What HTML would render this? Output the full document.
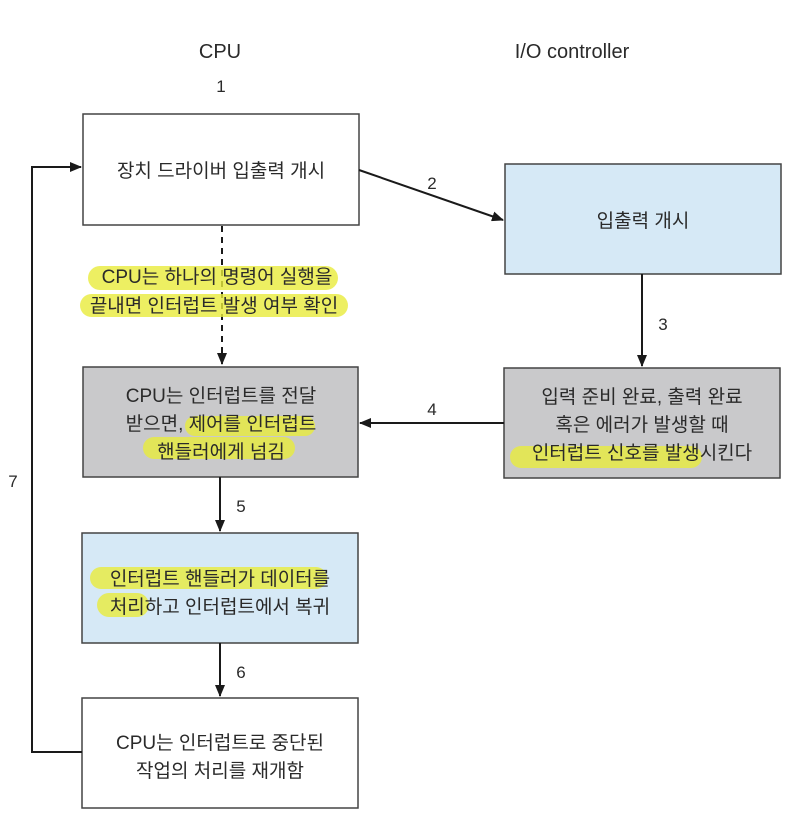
<!DOCTYPE html>
<html><head><meta charset="utf-8">
<style>
html,body{margin:0;padding:0;background:#fff;}
svg{display:block;}
text{font-family:"Liberation Sans","Noto Sans CJK KR",sans-serif;fill:#2a2a2a;}
</style></head>
<body>
<svg width="803" height="821" viewBox="0 0 803 821" xmlns="http://www.w3.org/2000/svg">
<defs>
<marker id="a" markerWidth="12" markerHeight="10" refX="11" refY="5" orient="auto" markerUnits="userSpaceOnUse">
<path d="M0,0 L12,5 L0,10 Z" fill="#1a1a1a"/></marker>
</defs>

<text x="220" y="58" font-size="20" text-anchor="middle">CPU</text>
<text x="572" y="58" font-size="20" text-anchor="middle">I/O controller</text>
<text x="221" y="92" font-size="17" text-anchor="middle">1</text>

<!-- boxes -->
<rect x="83" y="114" width="276" height="111" fill="#fff" stroke="#444" stroke-width="1.5"/>
<rect x="505" y="164" width="276" height="110" fill="#d6e9f6" stroke="#444" stroke-width="1.5"/>
<rect x="83" y="367" width="275" height="110" fill="#c9c9cb" stroke="#444" stroke-width="1.5"/>
<rect x="504" y="368" width="276" height="110" fill="#c9c9cb" stroke="#444" stroke-width="1.5"/>
<rect x="82" y="533" width="276" height="110" fill="#d6e9f6" stroke="#444" stroke-width="1.5"/>
<rect x="82" y="698" width="276" height="110" fill="#fff" stroke="#444" stroke-width="1.5"/>

<line x1="222" y1="226" x2="222" y2="364" stroke="#1a1a1a" stroke-width="2" stroke-dasharray="6,5" marker-end="url(#a)"/>

<!-- highlights -->
<g fill="#e9ec3c" opacity="0.8">
<rect x="88" y="266" width="250" height="24" rx="12"/>
<rect x="80" y="294" width="268" height="23" rx="11.5"/>
<rect x="185" y="416" width="130" height="20" rx="10"/>
<rect x="143" y="437" width="152" height="22" rx="11"/>
<rect x="510" y="446" width="192" height="22" rx="11"/>
<rect x="90" y="567" width="237" height="22" rx="11"/>
<rect x="97" y="593" width="52" height="24" rx="12"/>
</g>

<!-- connectors -->
<line x1="359" y1="170" x2="503" y2="220" stroke="#1a1a1a" stroke-width="2" marker-end="url(#a)"/>
<line x1="642" y1="274" x2="642" y2="366" stroke="#1a1a1a" stroke-width="2" marker-end="url(#a)"/>
<line x1="504" y1="423" x2="360" y2="423" stroke="#1a1a1a" stroke-width="2" marker-end="url(#a)"/>
<line x1="220" y1="477" x2="220" y2="531" stroke="#1a1a1a" stroke-width="2" marker-end="url(#a)"/>
<line x1="220" y1="643" x2="220" y2="696" stroke="#1a1a1a" stroke-width="2" marker-end="url(#a)"/>
<polyline points="82,752 32,752 32,167 81,167" fill="none" stroke="#1a1a1a" stroke-width="2" marker-end="url(#a)"/>

<!-- numbers -->
<g font-size="17">
<text x="432" y="189" text-anchor="middle">2</text>
<text x="663" y="330" text-anchor="middle">3</text>
<text x="432" y="415" text-anchor="middle">4</text>
<text x="241" y="512" text-anchor="middle">5</text>
<text x="241" y="678" text-anchor="middle">6</text>
<text x="13" y="487" text-anchor="middle">7</text>
</g>

<!-- box text -->
<g font-size="19" text-anchor="middle">
<text x="221" y="177">장치 드라이버 입출력 개시</text>
<text x="643" y="227">입출력 개시</text>
<text x="217" y="283">CPU는 하나의 명령어 실행을</text>
<text x="214" y="312">끝내면 인터럽트 발생 여부 확인</text>
<text x="221" y="402">CPU는 인터럽트를 전달</text>
<text x="221" y="430">받으면, 제어를 인터럽트</text>
<text x="221" y="458">핸들러에게 넘김</text>
<text x="642" y="403">입력 준비 완료, 출력 완료</text>
<text x="642" y="431">혹은 에러가 발생할 때</text>
<text x="642" y="459">인터럽트 신호를 발생시킨다</text>
<text x="220" y="585">인터럽트 핸들러가 데이터를</text>
<text x="220" y="613">처리하고 인터럽트에서 복귀</text>
<text x="220" y="749">CPU는 인터럽트로 중단된</text>
<text x="220" y="777">작업의 처리를 재개함</text>
</g>
</svg>
</body></html>
